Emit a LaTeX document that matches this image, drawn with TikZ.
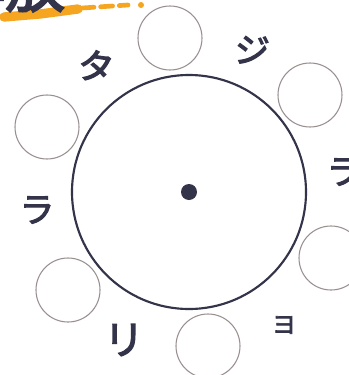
\documentclass[tikz,border=0pt]{standalone}
\usepackage{fontspec}
\newfontfamily\jp{Noto Sans CJK JP}
\newfontfamily\jpheavy[FakeBold=3]{Noto Sans CJK JP}
\definecolor{ink}{HTML}{33334A}
\definecolor{seat}{HTML}{9A8F90}
\definecolor{marker}{HTML}{F5A51F}

\begin{document}
\begin{tikzpicture}[x=0.75pt, y=-0.75pt]
    \clip (0, 0) rectangle (349, 375);
    \fill[white] (0, 0) rectangle (349, 375);

    % title, cut off at the top
    \draw[marker, line width=7pt, line cap=round] (4, 17) -- (40, 14) -- (78, 9);
    \draw[marker, line width=3.5pt, line cap=round, dash pattern=on 9pt off 5pt] (82, 8) -- (128, 5);
    \fill[marker] (141, 5) circle (3);
    \node[ink, anchor=base east, font=\jpheavy\fontsize{45}{45}\selectfont] (title) at (70, 7) {解放};

    % table
    \draw[ink, line width=1.6pt] (189, 192) circle (117);
    \fill[ink] (189, 192) circle (8);

    % seats
    \draw[seat, line width=0.8pt] (170, 38) circle (32);
    \draw[seat, line width=0.8pt] (310, 95) circle (32);
    \draw[seat, line width=0.8pt] (47, 127) circle (32);
    \draw[seat, line width=0.8pt] (331, 258) circle (32);
    \draw[seat, line width=0.8pt] (68, 290) circle (32);
    \draw[seat, line width=0.8pt] (208, 346) circle (32);

    % names
    \node[ink, rotate=-8, font=\jpheavy\fontsize{27}{27}\selectfont] (ta) at (96, 66) {タ};
    \node[ink, rotate=-5, font=\jpheavy\fontsize{26}{26}\selectfont] (ji) at (252, 50) {ジ};
    \node[ink, font=\jpheavy\fontsize{26}{26}\selectfont] (raright) at (344, 172) {ラ};
    \node[ink, font=\jpheavy\fontsize{26}{26}\selectfont] (raleft) at (37, 210) {ラ};
    \node[ink, font=\jpheavy\fontsize{30}{30}\selectfont] (ri) at (124, 340) {リ};
    \node[ink, font=\jpheavy\fontsize{18}{18}\selectfont] (yo) at (284, 325) {ヨ};
\end{tikzpicture}
\end{document}
